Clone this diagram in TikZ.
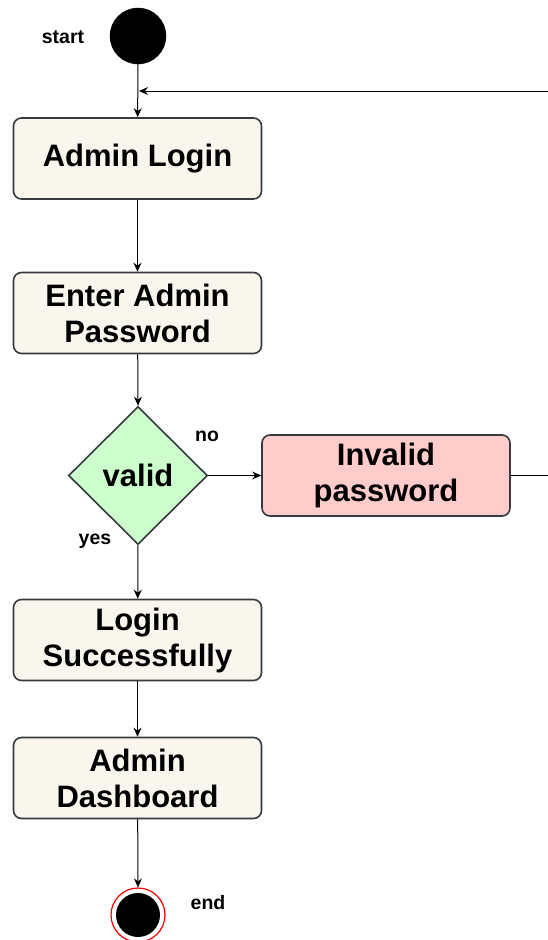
\documentclass[tikz,border=0pt]{standalone}
\usepackage{fontspec}
\setmainfont{Liberation Sans}
\usetikzlibrary{shapes.geometric,arrows.meta}
\definecolor{boxfill}{HTML}{F9F7ED}
\definecolor{boxline}{HTML}{36393D}
\definecolor{greenfill}{HTML}{CCFFCC}
\definecolor{redfill}{HTML}{FFCCCC}
\begin{document}
\begin{tikzpicture}[x=1pt,y=-1pt,
  actbox/.style={draw=boxline, line width=1.6pt, rounded corners=8pt, fill=boxfill,
    minimum width=248pt, minimum height=81pt, align=center, inner sep=0pt,
    font=\fontsize{31}{36}\selectfont\bfseries},
  decision/.style={diamond, draw=boxline, line width=1.6pt, fill=greenfill,
    minimum width=139pt, minimum height=138pt, inner sep=0pt,
    font=\fontsize{31}{36}\selectfont\bfseries},
  lbl/.style={font=\fontsize{19.5}{22}\selectfont\bfseries, inner sep=0pt},
  conn/.style={draw=black, line width=1pt, -{Stealth[length=9pt,width=8pt]}},
  plain/.style={draw=black, line width=1pt}]
\useasboundingbox (0,0) rectangle (548,940);

\node[circle, fill=black, draw=black, minimum size=56pt, inner sep=0pt] (start) at (138,36) {};
\node[lbl] (startl) at (63,37) {start};

\node[actbox] (login) at (137.5,158.5) {Admin Login};
\node[actbox] (pass) at (137.5,313) {Enter Admin\\Password};
\node[decision] (valid) at (138,475.5) {valid};
\node[lbl] (nol) at (207,436) {no};
\node[lbl] (yesl) at (95,541) {yes};
\node[actbox, fill=redfill] (invalid) at (386,475.5) {Invalid\\password};
\node[actbox] (succ) at (137.5,640) {Login\\Successfully};
\node[actbox] (dash) at (137.5,778) {Admin\\Dashboard};

\node[circle, draw=red, line width=1.2pt, fill=white, minimum size=54pt, inner sep=0pt] (end) at (138,915) {};
\node[circle, fill=black, minimum size=44pt, inner sep=0pt] (endin) at (end) {};
\node[lbl] (endl) at (208,903) {end};

\coordinate (fbend) at (139,91);
\coordinate (fbr) at (565,475.5);
\coordinate (fbtop) at (565,91);

\draw[conn] (start) -- (login);
\draw[conn] (login) -- (pass);
\draw[conn] (pass) -- (valid.north);
\draw[conn] (valid.east) -- (invalid.west);
\draw[conn] (valid.south) -- (succ);
\draw[conn] (succ) -- (dash);
\draw[conn] (dash) -- (end.north);
\draw[conn] (invalid.east) -- (fbr) -- (fbtop) -- (fbend);
\end{tikzpicture}
\end{document}
